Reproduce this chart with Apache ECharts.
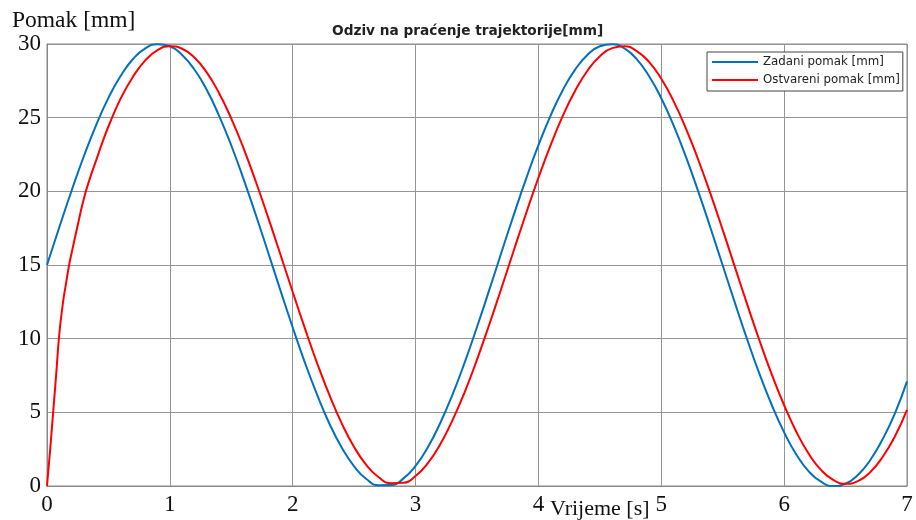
<!DOCTYPE html>
<html>
<head>
<meta charset="utf-8">
<title>Odziv na praćenje trajektorije</title>
<script src="https://cdn.jsdelivr.net/npm/echarts@6/dist/echarts.min.js"></script>
<style>
  html, body { margin: 0; padding: 0; background: #fff; }
  #chart { width: 916px; height: 520px; }
</style>
</head>
<body>
<div id="chart"></div>
<script>
// Time axis (s) for the reference trajectory, step 0.1 s
const vrijeme = [
  0.0, 0.1, 0.2, 0.3, 0.4, 0.5, 0.6, 0.7, 0.8, 0.9,
  1.0, 1.1, 1.2, 1.3, 1.4, 1.5, 1.6, 1.7, 1.8, 1.9,
  2.0, 2.1, 2.2, 2.3, 2.4, 2.5, 2.6, 2.7, 2.8, 2.9,
  3.0, 3.1, 3.2, 3.3, 3.4, 3.5, 3.6, 3.7, 3.8, 3.9,
  4.0, 4.1, 4.2, 4.3, 4.4, 4.5, 4.6, 4.7, 4.8, 4.9,
  5.0, 5.1, 5.2, 5.3, 5.4, 5.5, 5.6, 5.7, 5.8, 5.9,
  6.0, 6.1, 6.2, 6.3, 6.4, 6.5, 6.6, 6.7, 6.8, 6.9,
  7.0
];

// Commanded displacement (mm)
const zadaniPomak = [
  15.00, 17.56, 20.04, 22.38, 24.50, 26.34, 27.84, 28.98, 29.70, 29.99,
  29.85, 29.26, 28.27, 26.89, 25.14, 23.11, 20.83, 18.39, 15.85, 13.28,
  10.76, 8.36, 6.17, 4.21, 2.59, 1.33, 0.47, 0.05, 0.06, 0.50,
  1.36, 2.63, 4.26, 6.19, 8.39, 10.79, 13.31, 15.88, 18.42, 20.86,
  23.13, 25.16, 26.90, 28.28, 29.27, 29.85, 29.99, 29.70, 28.97, 27.83,
  26.32, 24.47, 22.35, 20.01, 17.53, 14.97, 12.41, 9.93, 7.59, 5.48,
  3.64, 2.12, 0.99, 0.29, 0.00, 0.16, 0.75, 1.75, 3.15, 4.89,
  7.10
];

// Time axis (s) for the measured response, denser during the start-up
const vrijemeOstvareno = [
  0.0, 0.025, 0.05, 0.075, 0.1, 0.13, 0.15, 0.18, 0.2, 0.25,
  0.3, 0.35, 0.4, 0.45, 0.5, 0.6, 0.7, 0.8, 0.9,
  1.0, 1.1, 1.2, 1.3, 1.4, 1.5, 1.6, 1.7, 1.8, 1.9,
  2.0, 2.1, 2.2, 2.3, 2.4, 2.5, 2.6, 2.7, 2.8, 2.9,
  3.0, 3.1, 3.2, 3.3, 3.4, 3.5, 3.6, 3.7, 3.8, 3.9,
  4.0, 4.1, 4.2, 4.3, 4.4, 4.5, 4.6, 4.7, 4.8, 4.9,
  5.0, 5.1, 5.2, 5.3, 5.4, 5.5, 5.6, 5.7, 5.8, 5.9,
  6.0, 6.1, 6.2, 6.3, 6.4, 6.5, 6.6, 6.7, 6.8, 6.9,
  7.0
];

// Measured (achieved) displacement (mm)
const ostvareniPomak = [
  0.00, 2.40, 5.00, 7.60, 10.30, 12.45, 13.50, 15.00, 15.80, 17.70,
  19.50, 20.90, 22.10, 23.30, 24.40, 26.31, 27.78, 28.89, 29.58,
  29.85, 29.68, 29.08, 28.07, 26.68, 24.94, 22.92, 20.65, 18.23, 15.71,
  13.17, 10.68, 8.31, 6.15, 4.23, 2.64, 1.42, 0.59, 0.19, 0.22,
  0.68, 1.55, 2.82, 4.45, 6.38, 8.58, 10.96, 13.46, 16.00, 18.51,
  20.92, 23.15, 25.15, 26.85, 28.20, 29.17, 29.72, 29.84, 29.52, 28.79,
  27.64, 26.12, 24.28, 22.16, 19.84, 17.38, 14.84, 12.31, 9.86, 7.56,
  5.48, 3.67, 2.19, 1.09, 0.41, 0.15, 0.33, 0.93, 1.95, 3.34,
  5.17
];

const nazivi = ['Zadani pomak [mm]', 'Ostvareni pomak [mm]'];
const xTicks = [0, 1, 2, 3, 4, 5, 6, 7];
const yTicks = [0, 5, 10, 15, 20, 25, 30];

const pairs = (xs, ys) => xs.map((x, i) => [x, ys[i]]);

const serif = '"Liberation Serif", "Times New Roman", serif';
const sans = '"DejaVu Sans", "Liberation Sans", Arial, sans-serif';
const gridColor = '#959595';

const chart = echarts.init(document.getElementById('chart'), null, { renderer: 'canvas' });

chart.setOption({
  animation: false,
  backgroundColor: '#ffffff',
  title: {
    text: 'Odziv na praćenje trajektorije[mm]',
    left: 332,
    top: 24,
    padding: 0,
    textStyle: { fontFamily: sans, fontSize: 13.7, fontWeight: 'bold', color: '#222' }
  },
  legend: {
    orient: 'vertical',
    left: 707,
    top: 52,
    padding: [4, 3, 5, 4],
    itemWidth: 46,
    itemHeight: 14,
    itemGap: 6,
    backgroundColor: '#ffffff',
    borderColor: '#444',
    borderWidth: 1,
    borderRadius: 0,
    itemStyle: { opacity: 0 },
    textStyle: { fontFamily: sans, fontSize: 11.8, color: '#222' },
    data: nazivi
  },
  grid: {
    left: 47,
    right: 9,
    top: 44,
    bottom: 34,
    show: true,
    borderColor: '#888',
    borderWidth: 1,
    backgroundColor: 'transparent'
  },
  xAxis: {
    type: 'value',
    min: xTicks[0],
    max: xTicks[xTicks.length - 1],
    interval: 1,
    name: 'Vrijeme [s]',
    nameLocation: 'end',
    nameGap: -357,
    nameTextStyle: {
      fontFamily: serif, fontSize: 22, color: '#111',
      align: 'left', verticalAlign: 'top', padding: [12, 0, 0, 0]
    },
    axisLine: { show: true, lineStyle: { color: '#888', width: 1 } },
    axisTick: { show: false },
    axisLabel: { fontFamily: serif, fontSize: 23, color: '#111', margin: 7 },
    splitLine: { show: true, lineStyle: { color: gridColor, width: 1 } }
  },
  yAxis: {
    type: 'value',
    min: yTicks[0],
    max: yTicks[yTicks.length - 1],
    interval: 5,
    name: 'Pomak [mm]',
    nameLocation: 'end',
    nameGap: 8,
    nameTextStyle: {
      fontFamily: serif, fontSize: 23.5, color: '#111',
      align: 'left', padding: [0, 0, 0, -35]
    },
    axisLine: { show: true, lineStyle: { color: '#888', width: 1 } },
    axisTick: { show: false },
    axisLabel: { fontFamily: serif, fontSize: 23, color: '#111', margin: 6 },
    splitLine: { show: true, lineStyle: { color: gridColor, width: 1 } }
  },
  series: [
    {
      name: nazivi[0],
      type: 'line',
      data: pairs(vrijeme, zadaniPomak),
      smooth: true,
      symbol: 'none',
      lineStyle: { color: '#0072BD', width: 2 },
      itemStyle: { color: '#0072BD' },
      z: 3
    },
    {
      name: nazivi[1],
      type: 'line',
      data: pairs(vrijemeOstvareno, ostvareniPomak),
      smooth: true,
      symbol: 'none',
      lineStyle: { color: '#FF0000', width: 2 },
      itemStyle: { color: '#FF0000' },
      z: 4
    }
  ]
});
</script>
</body>
</html>
